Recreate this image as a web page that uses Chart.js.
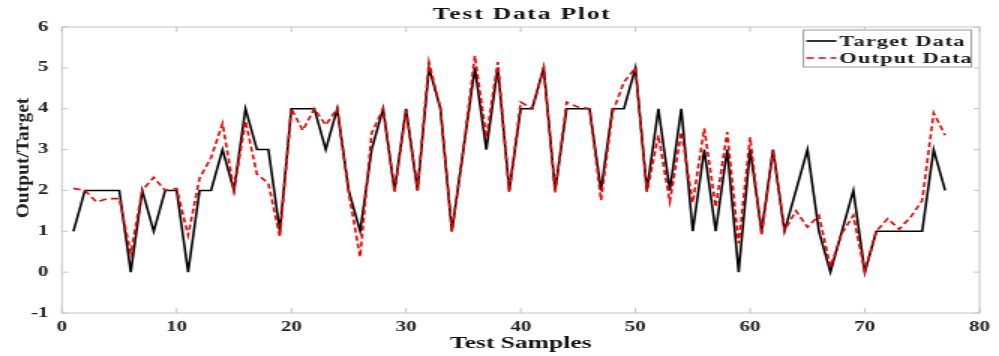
<!DOCTYPE html>
<html>
<head>
<meta charset="utf-8">
<title>Test Data Plot</title>
<script src="https://cdn.jsdelivr.net/npm/chart.js@4.4.1/dist/chart.umd.min.js"></script>
<style>
    html, body { margin: 0; padding: 0; background: #fff; overflow: hidden; }
    /* the original figure is stretched sideways, so draw narrow and widen */
    #wrap { width: 666px; height: 356px; transform: scaleX(1.5); transform-origin: 0 0; }
</style>
</head>
<body>
<div id="wrap"><canvas id="testChart"></canvas></div>
<script>
// Sample numbers (x)
const samples = [1, 2, 3, 4, 5, 6, 7, 8, 9, 10, 11, 12, 13, 14, 15, 16, 17, 18, 19, 20,
    21, 22, 23, 24, 25, 26, 27, 28, 29, 30, 31, 32, 33, 34, 35, 36, 37, 38, 39, 40,
    41, 42, 43, 44, 45, 46, 47, 48, 49, 50, 51, 52, 53, 54, 55, 56, 57, 58, 59, 60,
    61, 62, 63, 64, 65, 66, 67, 68, 69, 70, 71, 72, 73, 74, 75, 76, 77];

// Target data
const targetData = [1, 2, 2, 2, 2, 0, 2, 1, 2, 2,
    0, 2, 2, 3, 2, 4, 3, 3, 1, 4,
    4, 4, 3, 4, 2, 1, 3, 4, 2, 4,
    2, 5, 4, 1, 3, 5, 3, 5, 2, 4,
    4, 5, 2, 4, 4, 4, 2, 4, 4, 5,
    2, 4, 2, 4, 1, 3, 1, 3, 0, 3,
    1, 3, 1, 2, 3, 1, 0, 1, 2, 0,
    1, 1, 1, 1, 1, 3, 2];

// Output data (network prediction)
const outputData = [2.05, 2.0, 1.72, 1.8, 1.8, 0.46, 2.0, 2.32, 2.0, 2.05,
    0.9, 2.3, 2.8, 3.64, 2.0, 3.7, 2.4, 2.17, 0.86, 4.0,
    3.47, 4.0, 3.6, 4.0, 1.95, 0.37, 3.4, 4.0, 1.95, 3.95,
    2.0, 5.14, 4.0, 0.99, 3.0, 5.3, 3.3, 5.14, 1.95, 4.16,
    4.0, 5.0, 1.95, 4.16, 4.04, 4.0, 1.76, 3.9, 4.65, 5.0,
    1.96, 3.35, 1.72, 3.43, 1.7, 3.52, 1.6, 3.43, 0.7, 3.3,
    0.9, 2.98, 1.03, 1.5, 1.1, 1.39, 0.13, 0.95, 1.39, 0.0,
    1.0, 1.31, 1.05, 1.35, 1.75, 3.9, 3.35];

const xTicks = [0, 10, 20, 30, 40, 50, 60, 70, 80];
const yTicks = [-1, 0, 1, 2, 3, 4, 5, 6];

const serif = '"Liberation Serif", "Times New Roman", serif';

function toPoints(ys) {
    return samples.map((x, i) => ({ x: x, y: ys[i] }));
}

// box around the axes plus small inward ticks (matlab style)
const axesBox = {
    id: 'axesBox',
    beforeDatasetsDraw(chart) {
        const { ctx, chartArea: a, scales } = chart;
        ctx.save();
        ctx.strokeStyle = '#c4c4c4';
        ctx.lineWidth = 1;
        ctx.strokeRect(a.left, a.top, a.right - a.left, a.bottom - a.top);
        ctx.beginPath();
        xTicks.forEach(v => {
            const px = scales.x.getPixelForValue(v);
            ctx.moveTo(px, a.bottom); ctx.lineTo(px, a.bottom - 5);
            ctx.moveTo(px, a.top); ctx.lineTo(px, a.top + 5);
        });
        yTicks.forEach(v => {
            const py = scales.y.getPixelForValue(v);
            ctx.moveTo(a.left, py); ctx.lineTo(a.left + 4, py);
            ctx.moveTo(a.right, py); ctx.lineTo(a.right - 4, py);
        });
        ctx.stroke();
        ctx.restore();
    },
    afterDraw(chart) {
        const { ctx, chartArea: a } = chart;
        ctx.save();
        // title, centred over the axes
        ctx.font = 'bold 17px ' + serif;
        ctx.letterSpacing = '1.2px';
        ctx.fillStyle = '#111';
        ctx.textAlign = 'center';
        ctx.textBaseline = 'middle';
        ctx.fillText('Test Data Plot', (a.left + a.right) / 2 + 1, 15);
        ctx.letterSpacing = '0px';

        // y axis label, stretched along its length like the original
        ctx.translate(16, (a.top + a.bottom) / 2 - 12);
        ctx.rotate(-Math.PI / 2);
        ctx.scale(1.5, 1);
        ctx.font = 'bold 13px ' + serif;
        ctx.fillStyle = '#222';
        ctx.fillText('Output/Target', 0, 0);
        ctx.restore();

        // legend in the upper right corner
        const right = a.right - 5.4, top = a.top + 3;
        const left = right - 112, height = 37;
        ctx.save();
        ctx.fillStyle = '#fff';
        ctx.fillRect(left, top, right - left, height);
        ctx.strokeStyle = '#9a9a9a';
        ctx.lineWidth = 1;
        ctx.strokeRect(left, top, right - left, height);
        ctx.font = 'bold 15px ' + serif;
        ctx.letterSpacing = '0.7px';
        ctx.textBaseline = 'middle';
        ctx.textAlign = 'left';
        chart.data.datasets.forEach((ds, i) => {
            const y = top + 11 + i * 17;
            ctx.beginPath();
            ctx.strokeStyle = ds.borderColor;
            ctx.lineWidth = ds.borderWidth;
            ctx.setLineDash(ds.borderDash || []);
            ctx.moveTo(left + 2, y);
            ctx.lineTo(left + 22, y);
            ctx.stroke();
            ctx.setLineDash([]);
            ctx.fillStyle = '#1a1a1a';
            ctx.fillText(ds.label, left + 24, y + 1);
        });
        ctx.restore();
    }
};

const ctx = document.getElementById('testChart').getContext('2d');
const testChart = new Chart(ctx, {
    type: 'line',
    data: {
        datasets: [{
            label: 'Target Data',
            data: toPoints(targetData),
            borderColor: '#000000',
            borderWidth: 1.6,
            pointRadius: 0,
            tension: 0,
            order: 1
        }, {
            label: 'Output Data',
            data: toPoints(outputData),
            borderColor: '#ee0000',
            borderWidth: 1.6,
            borderDash: [5, 3],
            pointRadius: 0,
            tension: 0,
            order: 0
        }]
    },
    options: {
        responsive: true,
        maintainAspectRatio: false,
        animation: false,
        layout: { padding: { left: 0, right: 9.3, top: 27, bottom: 0 } },
        plugins: {
            legend: { display: false },
            tooltip: { enabled: false },
            title: { display: false }
        },
        scales: {
            x: {
                type: 'linear',
                min: 0,
                max: 80,
                grid: { display: false, drawTicks: false },
                border: { display: false },
                ticks: {
                    stepSize: 10,
                    padding: 6,
                    color: '#222',
                    maxRotation: 0,
                    font: { family: serif, size: 14, weight: 'bold' }
                },
                title: {
                    display: true,
                    text: 'Test Samples',
                    color: '#111',
                    padding: { top: 0, bottom: 2 },
                    font: { family: serif, size: 17, weight: 'bold', lineHeight: 1.2 }
                },
                afterFit(scale) { scale.height = 43; }
            },
            y: {
                min: -1,
                max: 6,
                grid: { display: false, drawTicks: false },
                border: { display: false },
                ticks: {
                    stepSize: 1,
                    padding: 9,
                    color: '#222',
                    font: { family: serif, size: 14, weight: 'bold' }
                },
                afterFit(scale) { scale.width = 41.3; }
            }
        }
    },
    plugins: [axesBox]
});
</script>
</body>
</html>
